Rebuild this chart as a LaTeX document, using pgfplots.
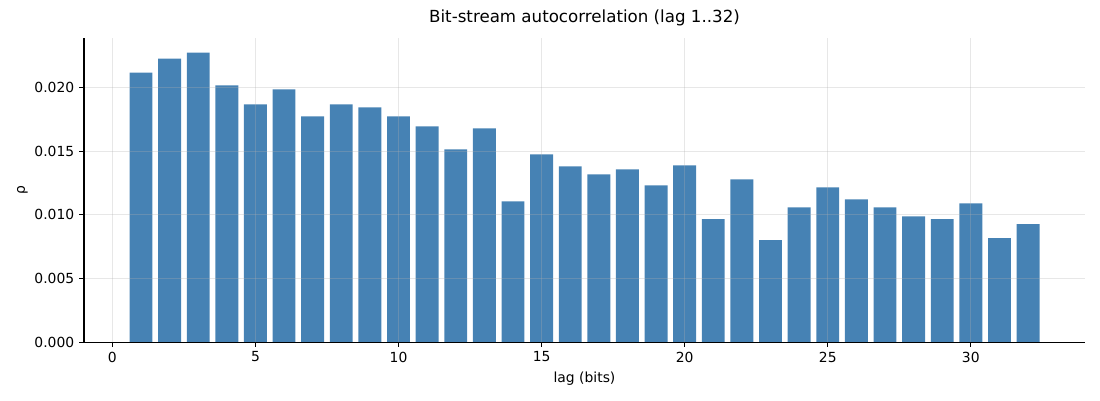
\documentclass[border=0pt]{standalone}
\usepackage{pgfplots}
\pgfplotsset{compat=1.18}
\usepackage{fontspec}
\setmainfont{DejaVu Sans}
\definecolor{steelblue}{HTML}{4682B4}
\begin{document}
\begin{tikzpicture}
\begin{axis}[
  name=ax,
  scale only axis,
  width=720.7pt, height=218.9pt,
  xmin=-0.99, xmax=33.99,
  ymin=0, ymax=0.02391,
  axis x line*=bottom, axis y line*=left,
  axis line style={-, line width=0.8pt},
  tick align=outside,
  major tick length=3.5pt,
  tick style={line width=0.8pt, black},
  xtick={0,5,10,15,20,25,30},
  ytick={0,0.005,0.010,0.015,0.020},
  scaled y ticks=false,
  /pgf/number format/assume math mode=true,
  yticklabel style={/pgf/number format/fixed, /pgf/number format/fixed zerofill, /pgf/number format/precision=3},
  tick label style={font=\fontsize{10}{12}\selectfont},
  grid=major,
  grid style={line width=0.8pt, color=black!31, opacity=0.3},
  axis on top,
  xlabel={lag (bits)},
  ylabel={ρ},
  label style={font=\fontsize{10}{12}\selectfont},
  ylabel style={yshift=-2pt},
  title={Bit-stream autocorrelation (lag 1..32)},
  title style={font=\fontsize{12}{14}\selectfont, yshift=-1pt},
]
\addplot[ybar, bar width=0.8, fill=steelblue, draw=none] coordinates {
(1,0.02120) (2,0.02230) (3,0.02277) (4,0.02018) (5,0.01869) (6,0.01987)
(7,0.01775) (8,0.01869) (9,0.01845) (10,0.01775) (11,0.01696) (12,0.01516)
(13,0.01680) (14,0.01107) (15,0.01476) (16,0.01382) (17,0.01319) (18,0.01358)
(19,0.01233) (20,0.01390) (21,0.00966) (22,0.01280) (23,0.00801) (24,0.01060)
(25,0.01217) (26,0.01123) (27,0.01060) (28,0.00989) (29,0.00966) (30,0.01091)
(31,0.00817) (32,0.00927)
};
\end{axis}
\pgfresetboundingbox
\path ([xshift=-60.5pt,yshift=-41.8pt]ax.south west) rectangle ([xshift=10.8pt,yshift=27.4pt]ax.north east);
\end{tikzpicture}
\end{document}
